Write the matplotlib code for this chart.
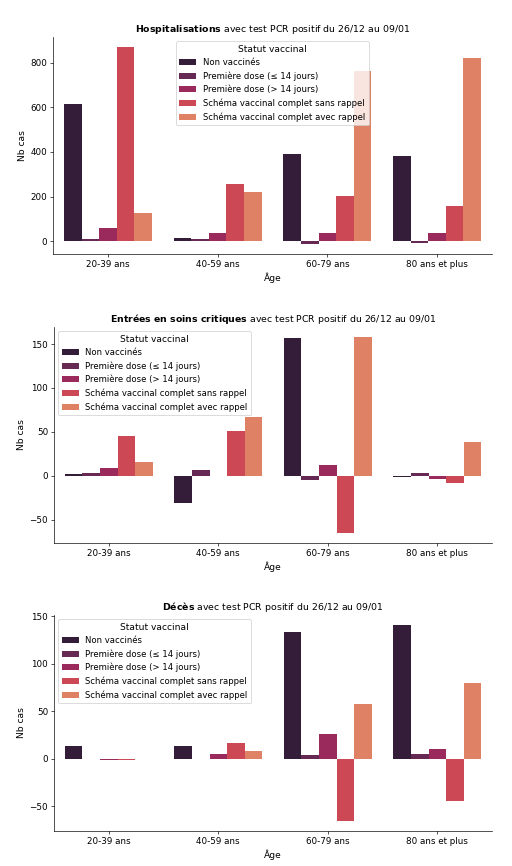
import numpy as np
import pandas as pd
import matplotlib
matplotlib.use("Agg")
import matplotlib.pyplot as plt
import seaborn as sns

ages = ["20-39 ans", "40-59 ans", "60-79 ans", "80 ans et plus"]
statuts = ["Non vaccinés", "Première dose (≤ 14 jours)", "Première dose (> 14 jours)",
           "Schéma vaccinal complet sans rappel", "Schéma vaccinal complet avec rappel"]

# one list per statut, values for each age group
hosp_non_vacc = [614, 15, 390, 382]
hosp_dose1_court = [10, 10, -12, -6]
hosp_dose1_long = [59, 39, 39, 40]
hosp_sans_rappel = [870, 259, 205, 159]
hosp_avec_rappel = [126, 223, 764, 818]

rea_non_vacc = [2.3, -31.4, 156.4, -1.5]
rea_dose1_court = [3, 6, -4.9, 2.6]
rea_dose1_long = [8.7, -0.8, 12.5, -3.8]
rea_sans_rappel = [45.7, 50.6, -65.4, -7.9]
rea_avec_rappel = [15.5, 67, 158.3, 38.9]

dc_non_vacc = [13, 13.3, 133, 141]
dc_dose1_court = [0, 0, 3.5, 5.3]
dc_dose1_long = [-1, 4.5, 26, 10]
dc_sans_rappel = [-2, 16, -66, -45]
dc_avec_rappel = [0, 7.7, 58, 79.6]

panels = [
    ("Hospitalisations", [hosp_non_vacc, hosp_dose1_court, hosp_dose1_long, hosp_sans_rappel, hosp_avec_rappel], "upper center"),
    ("Entrées\\ en\\ soins\\ critiques", [rea_non_vacc, rea_dose1_court, rea_dose1_long, rea_sans_rappel, rea_avec_rappel], "upper left"),
    ("Décès", [dc_non_vacc, dc_dose1_court, dc_dose1_long, dc_sans_rappel, dc_avec_rappel], "upper left"),
]

couleurs = sns.color_palette("rocket", 6)[:5]

fig = plt.figure(figsize=(512 / 60, 866 / 60), dpi=60)
boxes = [[0.1035, 0.7067, 0.8575, 0.2506],
         [0.1055, 0.3730, 0.8555, 0.2494],
         [0.1055, 0.0404, 0.8555, 0.2494]]

for box, (name, series, loc) in zip(boxes, panels):
    ax = fig.add_axes(box)
    rows = []
    for statut, vals in zip(statuts, series):
        for age, v in zip(ages, vals):
            rows.append({"Âge": age, "Nb cas": v, "Statut vaccinal": statut})
    df = pd.DataFrame(rows)
    sns.barplot(data=df, x="Âge", y="Nb cas", hue="Statut vaccinal",
                hue_order=statuts, order=ages, palette=couleurs, ax=ax)
    ax.set_title(r"$\bf{" + name + "}$ avec test PCR positif du 26/12 au 09/01", fontsize=11.3)
    ax.set_xlabel("Âge", fontsize=11)
    ax.set_ylabel("Nb cas", fontsize=11)
    ax.tick_params(labelsize=10.5)
    ax.legend(title="Statut vaccinal", loc=loc, fontsize=10.2, title_fontsize=11)
    sns.despine(ax=ax)

plt.savefig("out.png", dpi=60)
